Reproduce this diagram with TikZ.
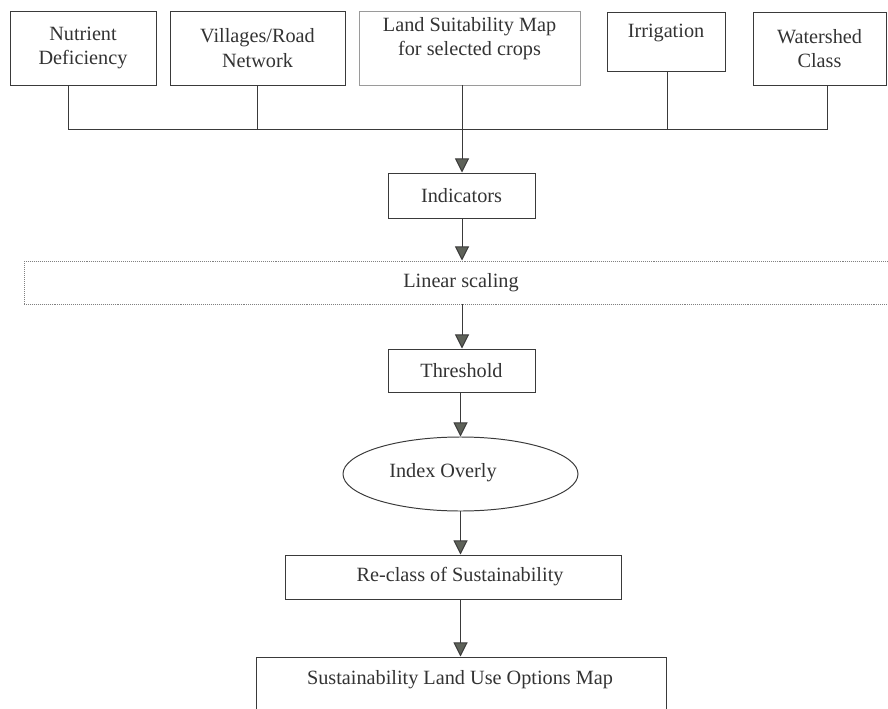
\documentclass[tikz,border=0pt]{standalone}
\usepackage{fontspec}
\setmainfont{Liberation Serif}
\usepackage{xcolor}
\usepackage{tikz}
\usetikzlibrary{arrows.meta}
\usetikzlibrary{shapes.geometric}
\newcommand{\pxu}{0.025cm}
\definecolor{linegray}{HTML}{3A3A3A}
\definecolor{lightframe}{HTML}{9A9A9A}
\definecolor{textgray}{HTML}{333333}
\definecolor{tipgray}{HTML}{5E6259}
\tikzset{
    tnode/.style = {align=center, inner sep=0pt, text centered, text=textgray, font=\fontsize{14.4}{17.5}\selectfont},
    sz/.style 2 args = {minimum width=#1*\pxu, minimum height=#2*\pxu},
    box/.style = {tnode, rectangle, draw=linegray, line width=0.7pt},
    pale_box/.style = {tnode, rectangle, draw=lightframe, line width=0.6pt},
    dot_box/.style = {tnode, rectangle, draw=gray, line width=0.7pt, dash pattern=on 0.7pt off 0.7pt},
    oval/.style = {tnode, ellipse, draw=linegray, line width=0.7pt},
    link/.style = {draw=linegray, line width=0.7pt},
    flow/.style = {link, -{Triangle[width=10pt, length=10pt, fill=tipgray]}}
}

\begin{document}
\begin{tikzpicture}[x=\pxu, y=\pxu]
    \clip (0,0) rectangle (888,-709);

    % input layers
    \node[box, sz={146}{74}] (nutr) at (83,-48) {Nutrient\\Deficiency};
    \node[box, sz={175}{74}] (vill) at (257.5,-48) {Villages/Road\\Network};
    \node[pale_box, sz={221}{74}] (land) at (469.5,-48) {};
    \node[tnode] (landtxt) at (469.5,-38.5) {Land Suitability Map\\for selected crops};
    \node[box, sz={118}{59}] (irr) at (666,-41.5) {};
    \node[tnode] (irrtxt) at (666,-33) {Irrigation};
    \node[box, sz={133}{73}] (wat) at (819.5,-48.5) {Watershed\\Class};

    % collector line
    \coordinate (b1) at (68,-129);
    \coordinate (b2) at (257,-129);
    \coordinate (b3) at (462,-129);
    \coordinate (b4) at (667,-129);
    \coordinate (b5) at (827,-129);
    \draw[link] (b1 |- nutr.south) -- (b1) -- (b5) -- (b5 |- wat.south);
    \draw[link] (b2 |- vill.south) -- (b2);
    \draw[link] (b3 |- land.south) -- (b3);
    \draw[link] (b4 |- irr.south) -- (b4);

    % processing chain
    \node[box, sz={147}{45}] (ind) at (461.5,-195.5) {Indicators};
    \node[dot_box, sz={874}{43}] (lin) at (461,-282.5) {Linear scaling};
    \node[box, sz={147}{43}] (thr) at (461.5,-370.5) {Threshold};
    \node[oval, sz={235}{74}] (ell) at (460.5,-474) {};
    \node[tnode] (elltxt) at (443,-473) {Index Overly};
    \node[box, sz={336}{44}] (recl) at (453,-577) {};
    \node[tnode] (recltxt) at (460,-577) {Re-class of Sustainability};
    \node[box, sz={410}{80}] (final) at (461,-697) {};
    \node[tnode] (finaltxt) at (460,-680) {Sustainability Land Use Options Map};

    \draw[flow] (b3) -- (b3 |- ind.north);
    \draw[flow] (b3 |- ind.south) -- (b3 |- lin.north);
    \draw[flow] (b3 |- lin.south) -- (b3 |- thr.north);
    \draw[flow] (ell.north |- thr.south) -- (ell.north);
    \draw[flow] (ell.south) -- (ell.south |- recl.north);
    \draw[flow] (ell.south |- recl.south) -- (ell.south |- final.north);
\end{tikzpicture}
\end{document}
